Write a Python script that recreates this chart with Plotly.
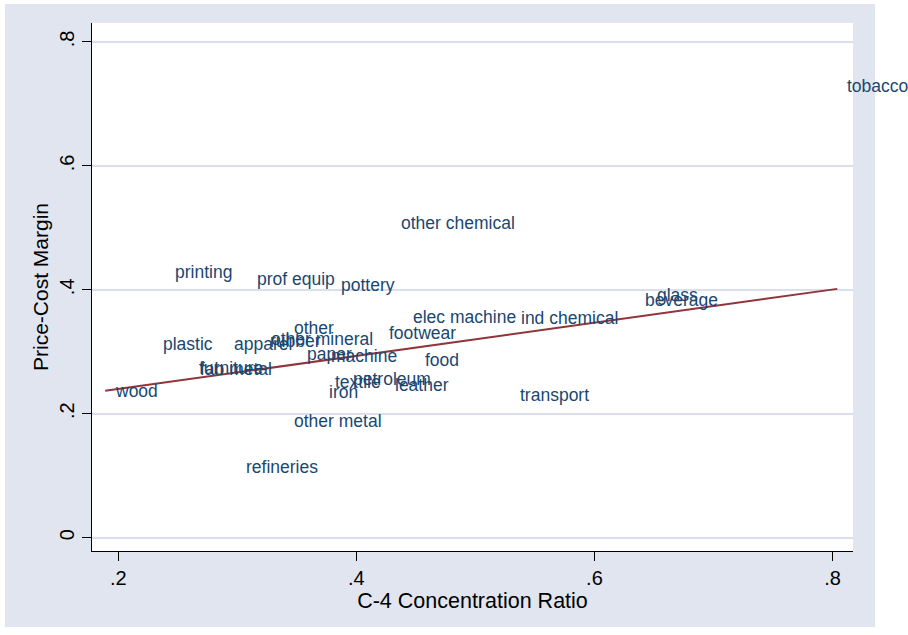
import numpy as np
import plotly.graph_objects as go

# Industry data: four-firm concentration ratio vs. price-cost margin
industry = [
    "wood", "plastic", "apparel", "furniture", "fab metal", "other",
    "other mineral", "rubber", "paper", "machine", "textile", "petroleum",
    "iron", "leather", "food", "elec machine", "ind chemical", "footwear",
    "transport", "glass", "beverage", "printing", "prof equip", "pottery",
    "other chemical", "other metal", "refineries", "tobacco",
]
c4_ratio = [
    0.189, 0.229, 0.289, 0.259, 0.260, 0.339,
    0.320, 0.319, 0.350, 0.370, 0.374, 0.389,
    0.369, 0.424, 0.449, 0.439, 0.530, 0.419,
    0.529, 0.644, 0.634, 0.239, 0.308, 0.379,
    0.429, 0.339, 0.299, 0.804,
]
pcm = [
    0.237, 0.313, 0.313, 0.274, 0.273, 0.338,
    0.321, 0.317, 0.297, 0.294, 0.252, 0.256,
    0.235, 0.247, 0.286, 0.356, 0.354, 0.330,
    0.231, 0.392, 0.384, 0.428, 0.418, 0.407,
    0.508, 0.188, 0.114, 0.729,
]

# fitted linear relationship (pcm = intercept + slope * c4)
fit_intercept = 0.1864
fit_slope = 0.2676

x_ticks = [0.2, 0.4, 0.6, 0.8]
x_tick_text = [".2", ".4", ".6", ".8"]
y_ticks = [0, 0.2, 0.4, 0.6, 0.8]
y_tick_text = ["0", ".2", ".4", ".6", ".8"]

NAVY = "#1A476F"
MAROON = "#90353B"
BG = "#E1E5EF"
GRID = "#D9DFEB"
FONT = "Liberation Sans, Arial, sans-serif"

x = np.array(c4_ratio)
y = np.array(pcm)

# fit line drawn across the observed range of the concentration ratio
fit_x = np.array([x.min(), x.max()])
fit_y = fit_intercept + fit_slope * fit_x

fig = go.Figure()
fig.add_trace(go.Scatter(
    x=fit_x, y=fit_y, mode="lines",
    line=dict(color=MAROON, width=2),
    hoverinfo="skip", showlegend=False,
))
# invisible anchor points for the labels
fig.add_trace(go.Scatter(
    x=x, y=y, mode="markers", marker=dict(size=1, opacity=0),
    text=industry, hoverinfo="text", showlegend=False,
))

for name, xi, yi in zip(industry, c4_ratio, pcm):
    fig.add_annotation(
        x=xi, y=yi, text=name, showarrow=False,
        xanchor="left", yanchor="middle", xshift=8,
        font=dict(family=FONT, size=17.5, color=NAVY),
    )

# white page edges around the grey graph region
white_strips = [
    (1.0289, 1.2, -0.3, 1.2),
    (-0.3, -0.1143, -0.3, 1.2),
    (-0.3, 1.2, 1.0360, 1.2),
    (-0.3, 1.2, -0.3, -0.1439),
]
for x0, x1, y0, y1 in white_strips:
    fig.add_shape(type="rect", xref="paper", yref="paper",
                  x0=x0, x1=x1, y0=y0, y1=y1,
                  fillcolor="white", line=dict(width=0), layer="below")

fig.update_layout(
    width=908, height=635,
    margin=dict(l=92, r=55, t=23, b=84),
    paper_bgcolor=BG, plot_bgcolor="white",
    font=dict(family=FONT, color="black"),
    showlegend=False,
)
fig.update_xaxes(
    range=[0.1779, 0.8172],
    tickvals=x_ticks, ticktext=x_tick_text,
    ticks="outside", ticklen=9, tickcolor="black", tickwidth=1,
    tickfont=dict(size=20, family=FONT, color="black"),
    showline=True, linecolor="black", linewidth=1,
    showgrid=False, zeroline=False,
    title=dict(text="C-4 Concentration Ratio",
               font=dict(size=21.5, family=FONT, color="black"), standoff=3),
)
fig.update_yaxes(
    range=[-0.02146, 0.8306],
    tickvals=y_ticks, ticktext=y_tick_text, tickangle=-90,
    ticks="outside", ticklen=9, tickcolor="black", tickwidth=1,
    tickfont=dict(size=20, family=FONT, color="black"),
    showline=True, linecolor="black", linewidth=1,
    showgrid=True, gridcolor=GRID, gridwidth=1.5, zeroline=False,
    title=dict(text="Price-Cost Margin",
               font=dict(size=21, family=FONT, color="black"), standoff=1),
)

fig.write_html("out.html")
